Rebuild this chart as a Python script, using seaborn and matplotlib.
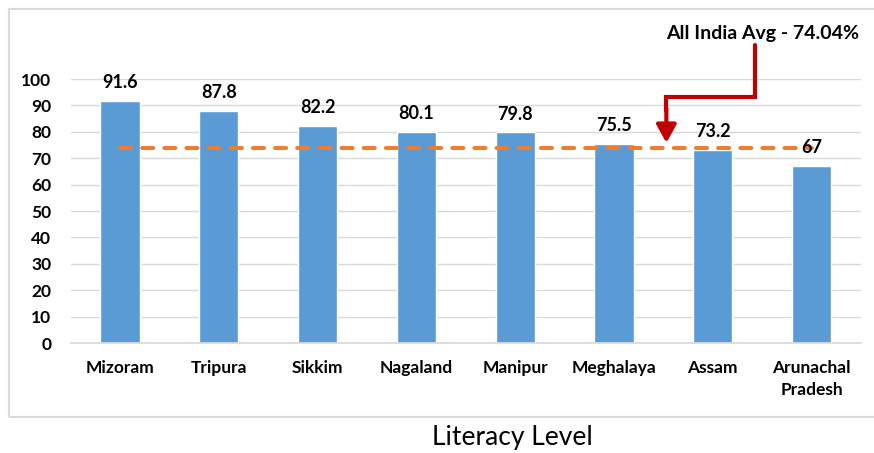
import matplotlib
matplotlib.use("Agg")
import matplotlib.pyplot as plt
import seaborn as sns
import numpy as np
import pandas as pd
from matplotlib.patches import Rectangle

states = ["Mizoram", "Tripura", "Sikkim", "Nagaland", "Manipur",
          "Meghalaya", "Assam", "Arunachal\nPradesh"]
literacy = [91.6, 87.8, 82.2, 80.1, 79.8, 75.5, 73.2, 67]
india_avg = 74.04
y_ticks = [0, 10, 20, 30, 40, 50, 60, 70, 80, 90, 100]

BAR_BLUE = "#5B9BD5"
AVG_ORANGE = "#ED7D31"
ARROW_RED = "#C00000"
GRID_GREY = "#D9D9D9"

sns.set_theme(style="white")
plt.rcParams["font.family"] = ["Lato", "DejaVu Sans"]

fig = plt.figure(figsize=(8.74, 4.53), dpi=100)
W, H = 874, 453
ax = fig.add_axes([70.6 / W, 110 / H, (861 - 70.6) / W, (343 - 79) / H])

df = pd.DataFrame({"state": states, "literacy": literacy})
sns.barplot(data=df, x="state", y="literacy", color=BAR_BLUE, saturation=1,
            width=0.395, ax=ax, zorder=2)

ax.set_ylim(0, 100)
ax.set_xlim(-0.5, len(states) - 0.5)
ax.set_yticks(y_ticks)
ax.yaxis.grid(True, color=GRID_GREY, linewidth=1.0, zorder=0)
ax.set_axisbelow(True)
for s in ax.spines.values():
    s.set_visible(False)
ax.spines["bottom"].set_visible(True)
ax.spines["bottom"].set_color(GRID_GREY)
ax.tick_params(axis="both", length=0, labelsize=12.5, colors="#000000")
ax.tick_params(axis="y", pad=14)
ax.tick_params(axis="x", pad=12)
for lab in ax.get_yticklabels() + ax.get_xticklabels():
    lab.set_fontweight("bold")
for lab in ax.get_xticklabels():
    lab.set_linespacing(1.45)
ax.set_ylabel("")
ax.set_xlabel("")

# value labels above each bar
ax.bar_label(ax.containers[0], labels=[f"{v:g}" for v in literacy],
             padding=7, fontsize=13, fontweight="bold", color="#000000", zorder=5)

# all-India average as a dashed line across the categories
x_pos = np.arange(len(states))
ax.plot(x_pos, [india_avg] * len(states), color=AVG_ORANGE, linewidth=2.9,
        linestyle=(0, (2.75, 2.75)), dash_capstyle="round", zorder=4)

# callout text and elbow arrow pointing at the average line
ax.text(6.5, 117.2, f"All India Avg - {india_avg:.2f}%", ha="center", va="center",
        fontsize=14, fontweight="bold", color="#000000", clip_on=False)
ax.plot([6.43, 6.43, 5.53, 5.53], [112.8, 93.2, 93.2, 88], color=ARROW_RED,
        linewidth=3, solid_joinstyle="miter", clip_on=False, zorder=6)
ax.annotate("", xy=(5.53, india_avg + 1.8), xytext=(5.53, 89),
            arrowprops=dict(arrowstyle="-|>,head_length=0.9,head_width=0.5",
                            color=ARROW_RED, lw=3, shrinkA=0, shrinkB=0),
            annotation_clip=False, zorder=6)

# chart frame
fig.patches.append(Rectangle((9 / W, 1 - 417 / H), (885 - 9) / W, (417 - 9) / H,
                             transform=fig.transFigure, fill=False,
                             edgecolor="#D9D9D9", linewidth=1.5))

fig.text(512 / W, 1 - 438 / H, "Literacy Level", ha="center", va="center",
         fontsize=19, color="#000000")

fig.savefig("out.png", dpi=100)
